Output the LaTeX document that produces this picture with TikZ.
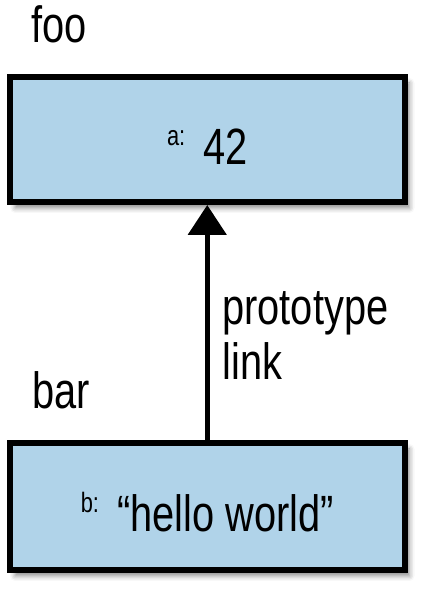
\documentclass[tikz,border=0pt]{standalone}
\usepackage{fontspec}
\setmainfont{Liberation Sans}[FakeStretch=0.78]
\usepackage{tikz}
\usetikzlibrary{
arrows.meta,
positioning,
shadows.blur
}
\definecolor{boxblue}{HTML}{B0D3E9}
\newcommand{\bigfnt}{\fontsize{51}{55}\selectfont}
\newcommand{\smallfnt}{\fontsize{28}{30}\selectfont}

\begin{document}
\begin{tikzpicture}[
x=1pt, y=1pt,
node distance=235pt,
box/.style={
rectangle,
draw=black,
line width=6pt,
fill=boxblue,
minimum width=394.5pt,
minimum height=125pt,
text height=52pt,
text depth=2pt,
font=\bigfnt,
blur shadow={shadow xshift=5pt, shadow yshift=-6pt,
shadow blur radius=5pt, shadow opacity=45}
},
lbl/.style={
inner sep=0pt,
font=\bigfnt,
align=left
}
]
\useasboundingbox (0,0) rectangle (433,592);

\node[box] (foo) at (207.25,452.5)
{\raisebox{19pt}{\smallfnt a:}\hspace{18pt}42};
\node[box, minimum height=127pt, below=of foo] (bar)
{\raisebox{19pt}{\smallfnt b:}\hspace{18pt}“hello world”};

\node[lbl, anchor=base west] (foolbl)
at ([xshift=24pt, yshift=31pt]foo.north west) {foo};
\node[lbl, anchor=base west] (barlbl)
at ([xshift=25pt, yshift=31pt]bar.north west) {bar};

\draw[-{Triangle[width=38pt, length=30pt]}, line width=5pt] (bar) -- (foo);

% base anchor sits on the last line
\node[lbl, anchor=base west] (protolbl)
at ([xshift=15pt, yshift=-175pt]foo.south) {prototype\\link};

\end{tikzpicture}
\end{document}
